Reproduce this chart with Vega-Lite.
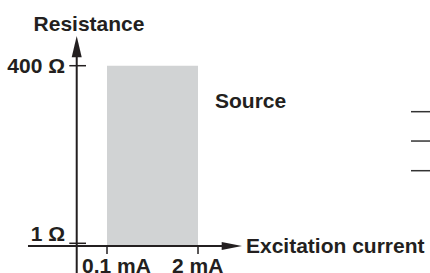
{
  "$schema": "https://vega.github.io/schema/vega-lite/v6.json",
  "width": 430,
  "height": 273,
  "autosize": {"type": "none"},
  "padding": 0,
  "background": "white",
  "config": {"view": {"stroke": null}},
  "datasets": {
    "region": [{"x": 0.1, "x2": 2, "y": 0.93, "y2": 400}],
    "yaxis": [{"x": 0.0369, "y": 0.367, "y2": 761}],
    "xaxis": [{"x": 0.00742, "x2": 6.09, "y": 0.913}],
    "yarrow": [{"x": 0.0369, "y": 761}],
    "xarrow": [{"x": 6.09, "y": 0.913}],
    "yticks": [{"x": 0.02891, "x2": 0.05009, "y": 400}, {"x": 0.02891, "x2": 0.05009, "y": 1}],
    "xticks": [{"x": 0.1, "y": 0.913, "y2": 0.697}, {"x": 2, "y": 0.913, "y2": 0.697}],
    "side": [{"x": 2218, "x2": 4146, "y": 84.8}, {"x": 2218, "x2": 4146, "y": 31.5}, {"x": 2218, "x2": 4146, "y": 11.58}],
    "labelsRight": [{"x": 0.0251, "y": 316, "label": "400 Ω"}, {"x": 0.0251, "y": 1.092, "label": "1 Ω"}],
    "labelsCenter": [{"x": 0.0553, "y": 1312, "label": "Resistance"}],
    "labelsLeft": [
      {"x": 0.04391, "y": 0.3634, "label": "0.1 mA"},
      {"x": 0.849, "y": 0.3634, "label": "2 mA"},
      {"x": 3.499, "y": 96.0, "label": "Source"},
      {"x": 9.708, "y": 0.709, "label": "Excitation current"}
    ]
  },
  "encoding": {
    "x": {"field": "x", "type": "quantitative", "axis": null, "scale": {"type": "log", "domain": [0.002953, 4146], "nice": false, "zero": false}},
    "y": {"field": "y", "type": "quantitative", "axis": null, "scale": {"type": "log", "domain": [0.367, 3672], "nice": false, "zero": false}}
  },
  "layer": [
    {"data": {"name": "region"}, "mark": {"type": "rect", "color": "#d1d3d4"}, "encoding": {"x2": {"field": "x2"}, "y2": {"field": "y2"}}},
    {"data": {"name": "yaxis"}, "mark": {"type": "rule", "color": "#231f20", "strokeWidth": 2}, "encoding": {"y2": {"field": "y2"}}},
    {"data": {"name": "xaxis"}, "mark": {"type": "rule", "color": "#231f20", "strokeWidth": 2}, "encoding": {"x2": {"field": "x2"}}},
    {"data": {"name": "yticks"}, "mark": {"type": "rule", "color": "#231f20", "strokeWidth": 1.5}, "encoding": {"x2": {"field": "x2"}}},
    {"data": {"name": "xticks"}, "mark": {"type": "rule", "color": "#231f20", "strokeWidth": 1.5}, "encoding": {"y2": {"field": "y2"}}},
    {"data": {"name": "side"}, "mark": {"type": "rule", "color": "#333333", "strokeWidth": 1.5}, "encoding": {"x2": {"field": "x2"}}},
    {"data": {"name": "yarrow"}, "mark": {"type": "point", "shape": "M0,-1L0.47,1L-0.47,1Z", "size": 454, "filled": true, "color": "#231f20", "opacity": 1}},
    {"data": {"name": "xarrow"}, "mark": {"type": "point", "shape": "M1,0L-1,-0.4L-1,0.4Z", "size": 412, "filled": true, "color": "#231f20", "opacity": 1}},
    {"data": {"name": "labelsRight"}, "mark": {"type": "text", "align": "right", "baseline": "alphabetic", "font": "Liberation Sans", "fontWeight": "bold", "fontSize": 21, "color": "#231f20"}, "encoding": {"text": {"field": "label"}}},
    {"data": {"name": "labelsCenter"}, "mark": {"type": "text", "align": "center", "baseline": "alphabetic", "font": "Liberation Sans", "fontWeight": "bold", "fontSize": 21, "color": "#231f20"}, "encoding": {"text": {"field": "label"}}},
    {"data": {"name": "labelsLeft"}, "mark": {"type": "text", "align": "left", "baseline": "alphabetic", "font": "Liberation Sans", "fontWeight": "bold", "fontSize": 21, "color": "#231f20"}, "encoding": {"text": {"field": "label"}}}
  ]
}
